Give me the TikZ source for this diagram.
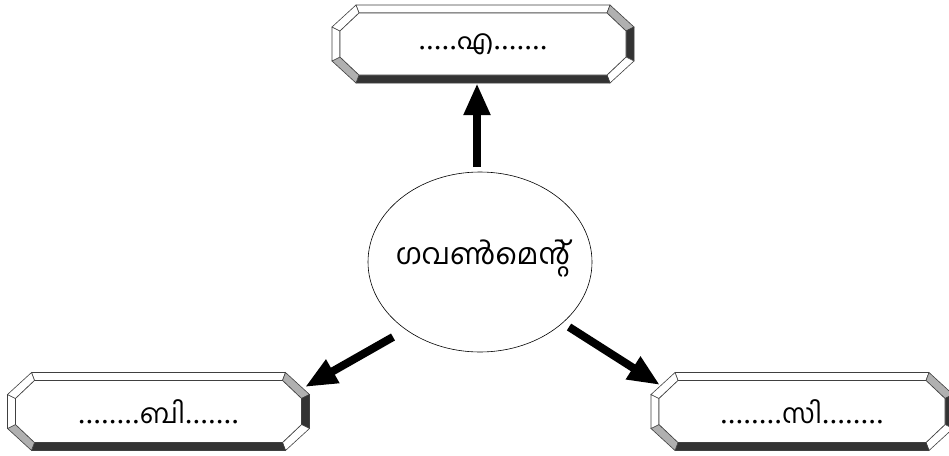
\documentclass[tikz,border=0pt]{standalone}
\usepackage{fontspec}
\setmainfont{Liberation Serif}
\newfontfamily\mal[Script=Malayalam]{Hind Kochi}
\usetikzlibrary{arrows.meta,shapes.geometric}
\definecolor{bevdark}{HTML}{333333}
\definecolor{bevgray}{HTML}{B0B0B0}
\tikzset{
  bevline/.style={draw=black!75,line width=0.6pt,line join=miter},
  bigarrow/.style={line width=8pt,-{Triangle[width=25pt,length=32pt]}},
  lbl/.style={inner sep=0pt,minimum width=302pt,minimum height=78pt,font=\fontsize{31}{36}\selectfont},
}
\newcommand{\mtxt}[1]{{\mal\fontsize{27}{30}\selectfont #1}}
\newcommand{\bevbox}[4]{%
 \begin{scope}[shift={(#2,#3)}]
  \fill[white,bevline] (-127,-39) -- (127,-39) -- (124,-31) -- (-124,-31) -- cycle;
  \fill[bevgray,bevline] (127,-39) -- (151,-17) -- (143,-13) -- (124,-31) -- cycle;
  \fill[bevdark,bevline] (151,-17) -- (151,17) -- (143,13) -- (143,-13) -- cycle;
  \fill[white,bevline] (151,17) -- (127,39) -- (124,31) -- (143,13) -- cycle;
  \fill[bevdark,bevline] (127,39) -- (-127,39) -- (-124,31) -- (124,31) -- cycle;
  \fill[bevgray,bevline] (-127,39) -- (-151,17) -- (-143,13) -- (-124,31) -- cycle;
  \fill[white,bevline] (-151,17) -- (-151,-17) -- (-143,-13) -- (-143,13) -- cycle;
  \fill[white,bevline] (-151,-17) -- (-127,-39) -- (-124,-31) -- (-143,-13) -- cycle;
  \fill[white,bevline] (-124,-31) -- (124,-31) -- (143,-13) -- (143,13) -- (124,31) -- (-124,31) -- (-143,13) -- (-143,-13) -- cycle;
  \node[lbl] (#1) at (0,0) {#4};
 \end{scope}}
\begin{document}
\begin{tikzpicture}[x=1pt,y=-1pt]
\useasboundingbox (0,0) rectangle (949,455);
\bevbox{boxA}{483}{44}{.....\mtxt{എ}.......}
\bevbox{boxB}{158.5}{411.5}{........\mtxt{ബി}.......}
\bevbox{boxC}{802}{411.5}{........\mtxt{സി}........}
\node[ellipse,draw,line width=0.6pt,minimum width=224pt,minimum height=180pt,inner sep=0pt] (gov) at (480,262) {};
\node[inner sep=0pt,font=\mal\fontsize{29}{36}\selectfont] (govtxt) at (483,258) {ഗവൺമെന്റ്};
\coordinate (aT) at (477,167);
\coordinate (aBs) at (393,337);
\coordinate (aBe) at (305,387);
\coordinate (aCs) at (569,327);
\coordinate (aCe) at (660,385);
\draw[bigarrow] (aT) -- (aT |- boxA.south);
\draw[bigarrow] (aBs) -- (aBe);
\draw[bigarrow] (aCs) -- (aCe);
\end{tikzpicture}
\end{document}
